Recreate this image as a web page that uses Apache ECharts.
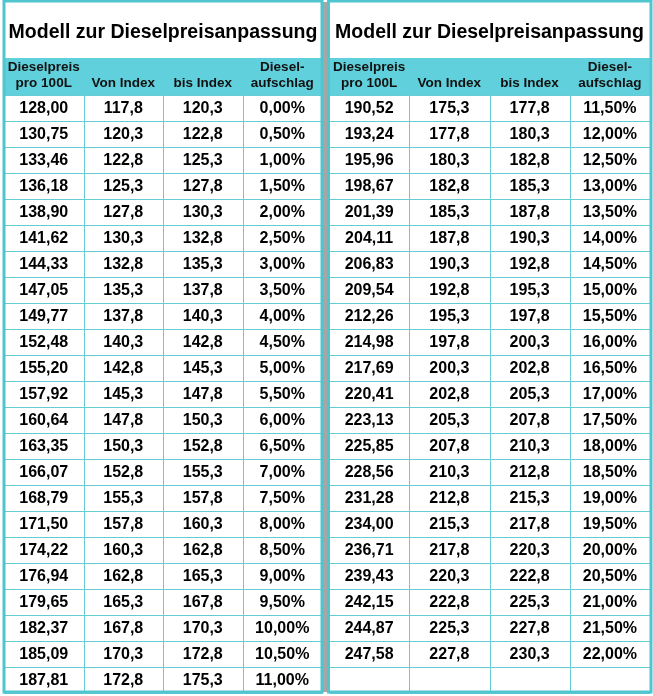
<!DOCTYPE html>
<html><head><meta charset="utf-8">
<script src="https://cdn.jsdelivr.net/npm/echarts@6/dist/echarts.min.js"></script>
<style>html,body{margin:0;padding:0;background:#fff}#c{width:653px;height:696px}</style>
</head><body><div id="c"></div>
<script>
const titleText = 'Modell zur Dieselpreisanpassung';
const columns = ['Dieselpreis\npro 100L', 'Von Index', 'bis Index', 'Diesel-\naufschlag'];
const dieselPrice = [128.00,130.75,133.46,136.18,138.90,141.62,144.33,147.05,149.77,152.48,155.20,157.92,160.64,163.35,166.07,168.79,171.50,174.22,176.94,179.65,182.37,185.09,187.81,
  190.52,193.24,195.96,198.67,201.39,204.11,206.83,209.54,212.26,214.98,217.69,220.41,223.13,225.85,228.56,231.28,234.00,236.71,239.43,242.15,244.87,247.58];
const vonIndex = [117.8,120.3,122.8,125.3,127.8,130.3,132.8,135.3,137.8,140.3,142.8,145.3,147.8,150.3,152.8,155.3,157.8,160.3,162.8,165.3,167.8,170.3,172.8,
  175.3,177.8,180.3,182.8,185.3,187.8,190.3,192.8,195.3,197.8,200.3,202.8,205.3,207.8,210.3,212.8,215.3,217.8,220.3,222.8,225.3,227.8];
const bisIndex = [120.3,122.8,125.3,127.8,130.3,132.8,135.3,137.8,140.3,142.8,145.3,147.8,150.3,152.8,155.3,157.8,160.3,162.8,165.3,167.8,170.3,172.8,175.3,
  177.8,180.3,182.8,185.3,187.8,190.3,192.8,195.3,197.8,200.3,202.8,205.3,207.8,210.3,212.8,215.3,217.8,220.3,222.8,225.3,227.8,230.3];
const surcharge = [0.00,0.50,1.00,1.50,2.00,2.50,3.00,3.50,4.00,4.50,5.00,5.50,6.00,6.50,7.00,7.50,8.00,8.50,9.00,9.50,10.00,10.50,11.00,
  11.50,12.00,12.50,13.00,13.50,14.00,14.50,15.00,15.50,16.00,16.50,17.00,17.50,18.00,18.50,19.00,19.50,20.00,20.50,21.00,21.50,22.00];
const rowsPerTable = 23;

const FONT = '"Liberation Sans", Arial, sans-serif';
const TEAL = '#4FC5D0';
const LINE = '#66CBD5';
const HEAD = '#60D0DC';

const de = (v, d) => v.toFixed(d).replace('.', ',');
function cellText(i, c) {
  if (i >= dieselPrice.length) return '';
  if (c === 0) return de(dieselPrice[i], 2);
  if (c === 1) return de(vonIndex[i], 1);
  if (c === 2) return de(bisIndex[i], 1);
  return de(surcharge[i], 2) + '%';
}

const tables = [{ left: 4, width: 318 }, { left: 329, width: 321 }];
const rowsTop = { title: 2, header: 58, body: 95 };
const rowsH = { title: 56, header: 37, body: 26 * rowsPerTable };

const grid = [], xAxis = [], yAxis = [], series = [];
const rowCats = Array.from({ length: rowsPerTable }, (_, i) => 'r' + i);

function snap(v) { return Math.round(v) + 0.5; }

function makeRenderer(kind, labels) {
  return function (params, api) {
    const c = api.coord([api.value(0), api.value(1)]);
    const s = api.size([1, 1]);
    const x0 = snap(c[0] - s[0] / 2), x1 = snap(c[0] + s[0] / 2);
    const y0 = snap(c[1] - s[1] / 2), y1 = snap(c[1] + s[1] / 2);
    const txt = labels[params.dataIndex];
    const children = [];
    if (kind === 'body') {
      children.push({ type: 'rect', shape: { x: x0, y: y0, width: x1 - x0, height: y1 - y0 },
        style: { fill: '#fff', stroke: LINE, lineWidth: 1 } });
      children.push({ type: 'text', style: { text: txt, x: c[0], y: c[1] + 1, align: 'center', verticalAlign: 'middle',
        font: 'bold 16px ' + FONT, fill: '#000' } });
    } else if (kind === 'header') {
      children.push({ type: 'rect', shape: { x: x0 - 0.5, y: y0 - 0.5, width: x1 - x0 + 1, height: y1 - y0 },
        style: { fill: HEAD } });
      children.push({ type: 'text', style: { text: txt, x: c[0], y: y1 - 4, align: 'center', verticalAlign: 'bottom',
        lineHeight: 16, font: 'bold 13.5px ' + FONT, fill: '#111' } });
    } else {
      children.push({ type: 'rect', shape: { x: x0, y: y0, width: x1 - x0, height: y1 - y0 },
        style: { fill: '#fff' } });
      children.push({ type: 'text', style: { text: txt, x: c[0], y: c[1] + 3, align: 'center', verticalAlign: 'middle',
        font: 'bold 19.5px ' + FONT, fill: '#000' } });
    }
    return { type: 'group', children };
  };
}

tables.forEach((t, ti) => {
  ['title', 'header', 'body'].forEach(kind => {
    const gi = grid.length;
    grid.push({ left: t.left, width: t.width, top: rowsTop[kind], height: rowsH[kind], containLabel: false });
    const xCats = kind === 'title' ? ['title'] : columns;
    const yCats = kind === 'body' ? rowCats : [kind];
    xAxis.push({ type: 'category', gridIndex: gi, data: xCats, show: false });
    yAxis.push({ type: 'category', gridIndex: gi, data: yCats, inverse: true, show: false });
    const data = [], labels = [];
    if (kind === 'title') { data.push([0, 0]); labels.push(titleText); }
    else if (kind === 'header') { columns.forEach((h, c) => { data.push([c, 0]); labels.push(h); }); }
    else {
      for (let r = 0; r < rowsPerTable; r++) for (let c = 0; c < 4; c++) {
        data.push([c, r]); labels.push(cellText(ti * rowsPerTable + r, c));
      }
    }
    series.push({ type: 'custom', xAxisIndex: gi, yAxisIndex: gi, data, renderItem: makeRenderer(kind, labels),
      silent: true, animation: false, clip: false });
  });
});

const chart = echarts.init(document.getElementById('c'), null, { renderer: 'canvas' });
chart.setOption({
  backgroundColor: '#fff',
  animation: false,
  grid, xAxis, yAxis, series,
  graphic: [
    { type: 'rect', z: 100, shape: { x: 323, y: 2, width: 5, height: 690 }, style: { fill: '#A6A6A6' } },
    { type: 'rect', z: 101, shape: { x: 4, y: 1, width: 318, height: 691 }, style: { fill: 'none', stroke: TEAL, lineWidth: 3 } },
    { type: 'rect', z: 101, shape: { x: 328.5, y: 1, width: 322.5, height: 691 }, style: { fill: 'none', stroke: TEAL, lineWidth: 3 } }
  ]
});
</script>
</body></html>
